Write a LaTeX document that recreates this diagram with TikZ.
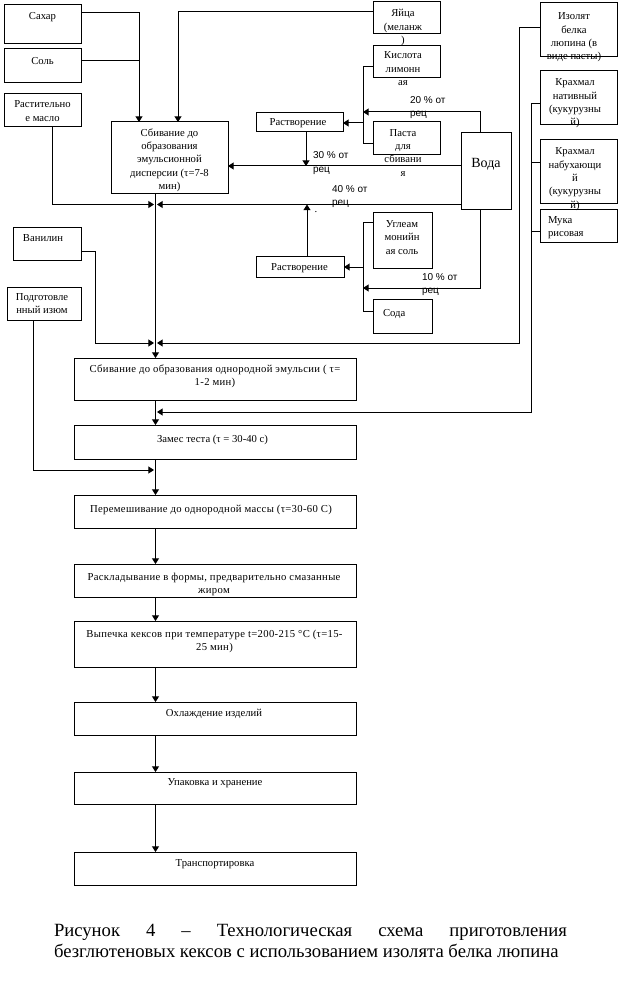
\documentclass[tikz,border=0pt]{standalone}
\usepackage{fontspec}
\setmainfont{Liberation Serif}
\newfontfamily\lsans{Liberation Sans}
\newfontfamily\widefam[LetterSpace=3]{Liberation Serif}
\usetikzlibrary{arrows.meta}
\newcommand{\boxfont}{\fontsize{8}{10}\selectfont}
\newcommand{\flowfont}{\widefam\fontsize{8}{10}\selectfont}
\newcommand{\lblfont}{\lsans\fontsize{7.5}{10}\selectfont}
\newcommand{\pbox}[5]{\node[bx, minimum width={(#4-#2)*0.75pt}, minimum height={(#5-#3)*0.75pt}] (#1) at ({(#2+#4)/2},{(#3+#5)/2}) {};}
\newcommand{\ptxt}[4]{\node[tx] (#1) at (#2,{#3-9.333}) {\strut #4};}
\newcommand{\wtxt}[4]{\node[tx, font=\flowfont] (#1) at (#2,{#3-9.333}) {\strut #4};}
\newcommand{\ltxt}[4]{\node[tx, anchor=north west, align=left] (#1) at (#2,{#3-9.333}) {\strut #4};}
\newcommand{\plbl}[4]{\node[lbl] (#1) at (#2,{#3-9.333}) {\strut #4};}
\tikzset{
  bx/.style={draw, rectangle, inner sep=0pt, outer sep=0pt},
  tx/.style={inner sep=0pt, outer sep=0pt, align=center, anchor=north, font=\boxfont},
  lbl/.style={inner sep=0pt, outer sep=0pt, anchor=north west, align=left, font=\lblfont},
  arr/.style={-{Triangle[length=4.2pt,width=5.2pt]}},
  captxt/.style={inner sep=0pt, outer sep=0pt, anchor=base west, font=\fontsize{14}{16}\selectfont},
}
\begin{document}
\begin{tikzpicture}[x=0.75pt, y=-0.75pt, line width=0.75pt]
\useasboundingbox (0,0) rectangle (622,988);
% boxes
\pbox{sah}{4}{5}{81}{44}
\pbox{sol}{4}{49}{81}{83}
\pbox{ras}{4}{94}{81}{127}
\pbox{sb1}{111}{122}{228}{193}
\pbox{yai}{373}{2}{440}{34}
\pbox{kis}{373}{46}{440}{78}
\pbox{pas}{373}{122}{440}{155}
\pbox{r1}{256}{113}{343}{132}
\pbox{voda}{461}{133}{511}{209}
\pbox{ugl}{373}{212}{432}{268}
\pbox{r2}{256}{256}{344}{277}
\pbox{soda}{373}{299}{432}{333}
\pbox{iz}{540}{3}{617}{57}
\pbox{kn}{540}{71}{617}{125}
\pbox{kb}{540}{140}{617}{203}
\pbox{muk}{540}{209}{617}{242}
\pbox{van}{13}{227}{81}{260}
\pbox{izm}{7}{287}{81}{320}
\pbox{f1}{74}{358}{356}{400}
\pbox{f2}{74}{425}{356}{459}
\pbox{f3}{74}{495}{356}{528}
\pbox{f4}{74}{564}{356}{597}
\pbox{f5}{74}{621}{356}{667}
\pbox{f6}{74}{702}{356}{735}
\pbox{f7}{74}{772}{356}{804}
\pbox{f8}{74}{852}{356}{885}
% texts
\ptxt{tsah}{42.5}{20}{Сахар}
\ptxt{tsol}{42.5}{64.5}{Соль}
\ptxt{tras}{42.5}{108}{Растительно\\е масло}
\ptxt{tsb1}{169.5}{136}{Сбивание до\\образования\\эмульсионной\\дисперсии (τ=7-8\\мин)}
\ptxt{tyai}{403}{17}{Яйца\\(меланж\\)}
\ptxt{tkis}{403}{59}{Кислота\\лимонн\\ая}
\ptxt{tpas}{403}{136}{Паста\\для\\сбивани\\я}
\ptxt{tr1}{298}{125.5}{Растворение}
\node[inner sep=0pt, anchor=base, font=\fontsize{10.5}{12}\selectfont] (tvoda) at (486,167) {Вода};
\ptxt{tugl}{402}{227.5}{Углеам\\монийн\\ая соль}
\ptxt{tr2}{299.5}{270}{Растворение}
\ltxt{tsoda}{383}{316}{Сода}
\ptxt{tiz}{574}{20}{Изолят\\белка\\люпина (в\\виде пасты)}
\ptxt{tkn}{575}{86}{Крахмал\\нативный\\(кукурузны\\й)}
\ptxt{tkb}{575}{155}{Крахмал\\набухающи\\й\\(кукурузны\\й)}
\ltxt{tmuk}{548}{223}{Мука\\рисовая}
\ptxt{tvan}{43}{241}{Ванилин}
\ptxt{tizm}{42}{300}{Подготовле\\нный изюм}
\wtxt{tf1}{215}{372}{Сбивание до образования однородной эмульсии ( τ=\\1-2 мин)}
\ptxt{tf2}{212.5}{442}{Замес теста (τ = 30-40 с)}
\wtxt{tf3}{211}{512}{Перемешивание до однородной массы (τ=30-60 С)}
\wtxt{tf4}{214}{580}{Раскладывание в формы, предварительно смазанные\\жиром}
\wtxt{tf5}{214.5}{637}{Выпечка кексов при температуре t=200-215 °С (τ=15-\\25 мин)}
\ptxt{tf6}{214}{716.5}{Охлаждение изделий}
\ptxt{tf7}{215}{785}{Упаковка и хранение}
\ptxt{tf8}{215}{866}{Транспортировка}
% percent labels
\plbl{l20}{410}{103.5}{20 \% от\\рец}
\plbl{l30}{313}{159}{30 \% от\\рец}
\plbl{l40}{332}{192}{40 \% от\\рец}
\plbl{l10}{422}{280}{10 \% от\\рец}
\node[tx, anchor=base] (dot) at (316,212) {.};
% connectors, upper part
\coordinate (jsol) at (139,61);
\draw[arr] (sah.east |- 0,13) -| (sb1.north -| 139,0);
\draw (sol.east |- 0,61) -- (jsol);
\draw[arr] (yai.west |- 0,12) -| (sb1.north -| 178,0);
\coordinate (m1l) at (154,204.5);
\coordinate (m1r) at (157,204.5);
\draw[arr] (ras.south -| 52,0) |- (m1l);
\draw[arr] (voda.west |- 0,204.5) -- (m1r);
\draw[arr] (sb1.south -| 155.5,0) -- (f1.north -| 155.5,0);
\coordinate (j30) at (306,166);
\draw[arr] (voda.west |- 0,166) -- (sb1.east |- 0,166);
\draw[arr] (r1.south -| 306,0) -- (j30);
% first dissolving group
\coordinate (br1) at (363,112);
\draw[arr] (voda.north -| 480,0) |- (br1);
\draw (kis.west |- 0,67) -| (363,144) -- (pas.west |- 0,144);
\draw[arr] (363,123) -- (r1.east |- 0,123);
% second dissolving group
\coordinate (j40) at (307,204.5);
\draw[arr] (r2.north -| 307,0) -- (j40);
\draw (ugl.west |- 0,222) -| (363,311) -- (soda.west |- 0,311);
\draw[arr] (363,267) -- (r2.east |- 0,267);
\coordinate (br2) at (363,288);
\draw[arr] (voda.south -| 480,0) |- (br2);
% vanilla, isolate
\coordinate (m2l) at (154,343);
\coordinate (m2r) at (157,343);
\draw[arr] (van.east |- 0,251) -| (95,343) -- (m2l);
\draw[arr] (iz.west |- 0,28) -| (519,343) -- (m2r);
% starches, flour
\coordinate (m3r) at (157,412);
\draw[arr] (kn.west |- 0,104) -| (531,412) -- (m3r);
\draw (kb.west |- 0,163) -- (531,163);
\draw (muk.west |- 0,231) -- (531,231);
% raisins
\coordinate (m4l) at (154,470);
\draw[arr] (izm.south -| 33,0) |- (m4l);
% main flow
\draw[arr] (f1.south -| 155.5,0) -- (f2.north -| 155.5,0);
\draw[arr] (f2.south -| 155.5,0) -- (f3.north -| 155.5,0);
\draw[arr] (f3.south -| 155.5,0) -- (f4.north -| 155.5,0);
\draw[arr] (f4.south -| 155.5,0) -- (f5.north -| 155.5,0);
\draw[arr] (f5.south -| 155.5,0) -- (f6.north -| 155.5,0);
\draw[arr] (f6.south -| 155.5,0) -- (f7.north -| 155.5,0);
\draw[arr] (f7.south -| 155.5,0) -- (f8.north -| 155.5,0);
% caption
\node[captxt] (cap1) at (54,936) {\makebox[384.75pt][s]{Рисунок 4 – Технологическая схема приготовления}};
\node[captxt] (cap2) at (54,957.5) {безглютеновых кексов с использованием изолята белка люпина};
\end{tikzpicture}
\end{document}
